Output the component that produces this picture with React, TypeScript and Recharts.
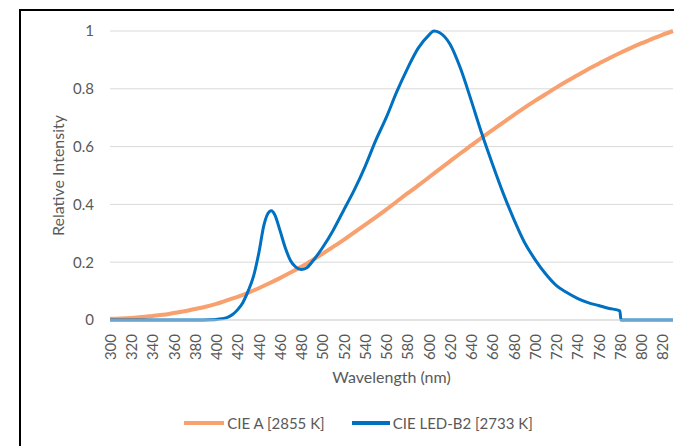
import React from "react";
import { CartesianGrid, Legend, Line, LineChart, XAxis, YAxis } from "recharts";

// CIE A, every 10 nm (normalised to 830 nm)
const aWavelengths = [
  300, 310, 320, 330, 340, 350, 360, 370, 380, 390, 400, 410, 420, 430, 440, 450, 460, 470, 480, 490,
  500, 510, 520, 530, 540, 550, 560, 570, 580, 590, 600, 610, 620, 630, 640, 650, 660, 670, 680, 690,
  700, 710, 720, 730, 740, 750, 760, 770, 780, 790, 800, 810, 820, 830,
];
const aValues = [
  0.004, 0.005, 0.007, 0.01, 0.014, 0.018, 0.024, 0.03, 0.038, 0.046, 0.056, 0.068, 0.08, 0.094, 0.11,
  0.127, 0.145, 0.164, 0.184, 0.206, 0.229, 0.253, 0.277, 0.303, 0.329, 0.355, 0.382, 0.41, 0.438, 0.465,
  0.493, 0.521, 0.549, 0.577, 0.604, 0.631, 0.657, 0.683, 0.709, 0.734, 0.758, 0.781, 0.804, 0.826, 0.847,
  0.868, 0.887, 0.906, 0.924, 0.941, 0.957, 0.972, 0.987, 1.0,
];

// CIE LED-B2
const ledWavelengths = [
  300, 340, 380, 395, 400, 405, 410, 415, 420, 425, 430, 435, 440, 445, 450, 452, 455, 460, 465, 470,
  475, 480, 485, 490, 500, 510, 520, 530, 540, 550, 560, 570, 580, 590, 600, 605, 610, 620, 630, 640,
  650, 660, 670, 680, 690, 700, 710, 720, 730, 740, 750, 760, 770, 780, 781, 800, 830,
];
const ledValues = [
  0, 0, 0, 0.001, 0.002, 0.004, 0.008, 0.018, 0.035, 0.06, 0.1, 0.15, 0.23, 0.33, 0.375, 0.378, 0.365,
  0.31, 0.25, 0.205, 0.183, 0.175, 0.18, 0.2, 0.25, 0.31, 0.38, 0.45, 0.53, 0.62, 0.7, 0.79, 0.87, 0.94,
  0.985, 1.0, 0.995, 0.955, 0.87, 0.76, 0.645, 0.54, 0.44, 0.35, 0.27, 0.21, 0.16, 0.12, 0.095, 0.075,
  0.06, 0.05, 0.04, 0.032, 0, 0, 0,
];

const xTicks = [
  300, 320, 340, 360, 380, 400, 420, 440, 460, 480, 500, 520, 540, 560, 580, 600, 620, 640, 660, 680,
  700, 720, 740, 760, 780, 800, 820,
];
const yTicks = [0, 0.2, 0.4, 0.6, 0.8, 1];

const seriesNames = ["CIE A [2855 K]", "CIE LED-B2 [2733 K]"];
const ORANGE = "#F8A06E";
const BLUE = "#0070C0";
const TEXT = "#595959";
const FONT = "Lato, 'Open Sans', sans-serif";

const aData = aWavelengths.map((nm, i) => ({ nm, v: aValues[i] }));
const ledData = ledWavelengths.map((nm, i) => ({ nm, v: ledValues[i] }));

const XTick = ({ x, y, payload }: any) => (
  <text
    x={x}
    y={y + 12}
    transform={`rotate(-90 ${x} ${y + 12})`}
    textAnchor="end"
    dominantBaseline="central"
    fill={TEXT}
    fontSize={15}
    fontFamily={FONT}
  >
    {payload.value}
  </text>
);

const LegendContent = () => (
  <div
    style={{
      display: "flex",
      justifyContent: "center",
      paddingLeft: 4,
      fontFamily: FONT,
      fontSize: 15,
      color: TEXT,
      lineHeight: "30px",
    }}
  >
    {[ORANGE, BLUE].map((c, i) => (
      <div key={i} style={{ display: "flex", alignItems: "center", marginRight: i === 0 ? 27 : 0 }}>
        <span style={{ display: "inline-block", width: i === 0 ? 40 : 38, height: 4, background: c, marginRight: 3 }} />
        <span>{seriesNames[i]}</span>
      </div>
    ))}
  </div>
);

export default function App() {
  return (
    <div style={{ position: "absolute", left: 0, top: 0, width: 674, height: 446, overflow: "hidden", background: "#fff" }}>
      <div
        style={{
          position: "absolute",
          left: 19,
          top: 9,
          width: 700,
          height: 500,
          border: "2px solid #000",
          boxSizing: "border-box",
        }}
      />
      <div style={{ position: "absolute", left: 0, top: 0 }}>
        <LineChart width={674} height={446} margin={{ top: 31, right: 1, bottom: 8, left: 40 }}>
          <CartesianGrid vertical={false} stroke="#D9D9D9" strokeWidth={1} />
          <XAxis
            dataKey="nm"
            type="number"
            domain={[300, 830]}
            ticks={xTicks}
            interval={0}
            height={88}
            tick={<XTick />}
            tickLine={false}
            tickSize={0}
            axisLine={{ stroke: "#D9D9D9" }}
            label={{
              value: "Wavelength (nm)",
              position: "insideBottom",
              offset: 25,
              fill: TEXT,
              fontSize: 16,
              fontFamily: FONT,
            }}
          />
          <YAxis
            type="number"
            domain={[0, 1]}
            ticks={yTicks}
            width={70}
            axisLine={false}
            tickLine={false}
            tickSize={0}
            tickMargin={16}
            tick={{ fill: TEXT, fontSize: 15, fontFamily: FONT }}
            label={{
              value: "Relative Intensity",
              angle: -90,
              position: "insideLeft",
              offset: 18,
              fill: TEXT,
              fontSize: 16,
              fontFamily: FONT,
              style: { textAnchor: "middle" },
            }}
          />
          <Legend verticalAlign="bottom" height={30} content={<LegendContent />} />
          <Line
            data={aData}
            dataKey="v"
            name={seriesNames[0]}
            type="monotone"
            stroke={ORANGE}
            strokeWidth={4}
            dot={false}
            isAnimationActive={false}
          />
          <Line
            data={ledData}
            dataKey="v"
            name={seriesNames[1]}
            type="monotone"
            stroke={BLUE}
            strokeWidth={3}
            dot={false}
            isAnimationActive={false}
          />
        </LineChart>
      </div>
    </div>
  );
}
